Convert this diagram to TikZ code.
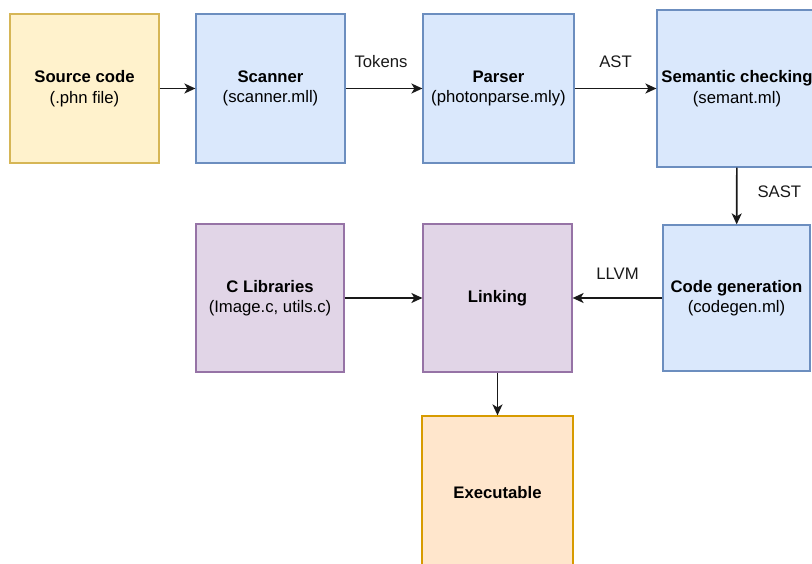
\documentclass[tikz,border=0pt]{standalone}
\usepackage{fontspec}
\setmainfont{Liberation Sans}
\usepackage{xcolor}
\usepackage{tikz}
\usetikzlibrary{arrows.meta,positioning}

\definecolor{blueFill}{HTML}{DAE8FC}
\definecolor{blueLine}{HTML}{6C8EBF}
\definecolor{yellowFill}{HTML}{FFF2CC}
\definecolor{yellowLine}{HTML}{D6B656}
\definecolor{purpleFill}{HTML}{E1D5E7}
\definecolor{purpleLine}{HTML}{9673A6}
\definecolor{orangeFill}{HTML}{FFE6CC}
\definecolor{orangeLine}{HTML}{D79B00}

\begin{document}
\begin{tikzpicture}[x=1pt, y=-1pt,
    every node/.style={font=\fontsize{16.7}{20.5}\selectfont, align=center},
    stage/.style={rectangle, draw, line width=1.2pt, inner sep=0pt, minimum width=149pt, minimum height=149pt},
    srcbox/.style={stage, fill=yellowFill, draw=yellowLine},
    compbox/.style={stage, fill=blueFill, draw=blueLine},
    linkbox/.style={stage, fill=purpleFill, draw=purpleLine},
    outbox/.style={stage, fill=orangeFill, draw=orangeLine},
    flow/.style={-{Stealth[length=11pt, width=10pt, inset=3pt]}, line width=1.6pt, black!90},
    lbl/.style={inner sep=0pt}]
    \useasboundingbox (0,0) rectangle (812,564);

    % front end
    \node[srcbox] (source) at (84.5,88.5) {\textbf{Source code}\\(.phn file)};
    \node[compbox] (scanner) at (270.5,88.5) {\textbf{Scanner}\\(scanner.mll)};
    \node[compbox, minimum width=151pt] (parser) at (498.5,88.5) {\textbf{Parser}\\(photonparse.mly)};
    \node[compbox, minimum width=160pt, minimum height=157pt] (semant) at (737,88.5) {\textbf{Semantic checking}\\(semant.ml)};

    % back end
    \node[compbox, minimum width=147pt, minimum height=146pt] (codegen) at (736.5,298) {\textbf{Code generation}\\(codegen.ml)};
    \node[linkbox, minimum height=148pt] (linking) at (497.5,298) {\textbf{Linking}};
    \node[linkbox, minimum width=148pt, minimum height=148pt] (clibs) at (270,298) {\textbf{C Libraries}\\(Image.c, utils.c)};
    \node[outbox, minimum width=151pt, minimum height=154pt] (exec) at (497.5,493) {\textbf{Executable}};

    \draw[flow] (source) -- (scanner);
    \draw[flow] (scanner) -- node[lbl, above=20pt, xshift=-3pt] {Tokens} (parser);
    \draw[flow] (parser) -- node[lbl, above=20pt] {AST} (semant);
    \draw[flow] (semant) -- node[lbl, right=20pt, yshift=4pt] {SAST} (codegen);
    \draw[flow] (codegen) -- node[lbl, above=18pt] {LLVM} (linking);
    \draw[flow] (clibs) -- (linking);
    \draw[flow] (linking) -- (exec);
\end{tikzpicture}
\end{document}
